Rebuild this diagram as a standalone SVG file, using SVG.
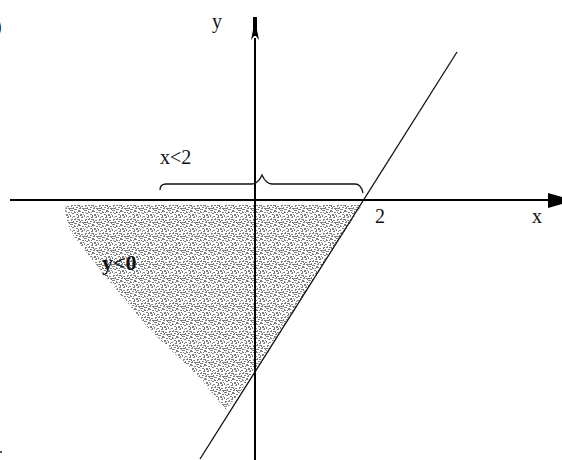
<svg xmlns="http://www.w3.org/2000/svg" width="562" height="460" viewBox="0 0 562 460">
<style>
.t{font-family:"Liberation Serif","Times New Roman",serif;font-size:20px;fill:#111}
.b{font-weight:bold;font-size:22px}
.ax{stroke:#000;stroke-width:2;fill:none}
.ln{stroke:#111;stroke-width:1.3;fill:none}
</style>
<defs>
<pattern id="dots" width="14" height="14" patternUnits="userSpaceOnUse">
<g fill="#7e7e7e">
<rect x="0" y="0" width="3" height="1"/><rect x="4" y="1" width="1" height="2"/><rect x="8" y="0" width="2" height="2"/><rect x="12" y="2" width="2" height="1"/>
<rect x="2" y="3" width="2" height="1"/><rect x="6" y="4" width="2" height="1"/><rect x="10" y="4" width="2" height="2"/><rect x="0" y="5" width="1" height="2"/>
<rect x="3" y="6" width="2" height="1"/><rect x="7" y="7" width="2" height="1"/><rect x="12" y="6" width="1" height="2"/><rect x="5" y="8" width="1" height="2"/>
<rect x="1" y="9" width="2" height="1"/><rect x="9" y="9" width="1" height="2"/><rect x="11" y="10" width="2" height="1"/><rect x="3" y="11" width="1" height="2"/>
<rect x="6" y="11" width="2" height="1"/><rect x="0" y="12" width="2" height="1"/><rect x="9" y="12" width="2" height="1"/><rect x="13" y="12" width="1" height="2"/>
<rect x="4" y="13" width="2" height="1"/><rect x="7" y="2" width="1" height="1"/><rect x="11" y="7" width="2" height="1"/><rect x="2" y="7" width="1" height="1"/>
<rect x="5" y="2" width="1" height="1"/><rect x="1" y="2" width="1" height="1"/><rect x="8" y="5" width="1" height="2"/><rect x="13" y="4" width="1" height="1"/>
<rect x="4" y="9" width="1" height="1"/><rect x="7" y="9" width="2" height="1"/><rect x="12" y="12" width="1" height="1"/><rect x="2" y="12" width="1" height="1"/>
<rect x="10" y="1" width="1" height="1"/><rect x="6" y="13" width="1" height="1"/><rect x="10" y="11" width="1" height="1"/><rect x="1" y="10" width="1" height="1"/>
</g>
</pattern>
</defs>
<rect width="562" height="460" fill="#fff"/>
<g id="region">
<path d="M66,205 L362,205 L240,392 L226,410 L200,378 L150,330 L110,282 L75,238 Q62,218 66,205 Z" fill="url(#dots)"/>
</g>
<g id="connectors">
<line class="ax" x1="10" y1="200" x2="550" y2="200"/>
<polygon points="548,193 562,197 562,204 548,208" fill="#000"/>
<line class="ax" x1="255" y1="38" x2="255" y2="460"/>
<rect x="253" y="17" width="4" height="14" fill="#000"/>
<polygon points="251,40 253,30 257,30 259,40 256,36 254,36" fill="#000"/>
<line class="ln" x1="457" y1="52" x2="200" y2="459"/>
<path class="ln" d="M160,190 Q160,184 166,184 L252,184 Q258,184 262,175 Q266,184 272,184 L355,184 Q361,184 363,193"/>
</g>
<g id="labels">
<text class="t" x="-5" y="33" style="font-weight:bold">)</text>
<rect x="0" y="451" width="2" height="2" fill="#555"/>
<text class="t" x="212" y="28">y</text>
<text class="t" x="160" y="164">x&lt;2</text>
<text class="t" x="375" y="223">2</text>
<text class="t" x="532" y="223">x</text>
<text class="t b" x="102" y="270">y&lt;0</text>
</g>
</svg>
